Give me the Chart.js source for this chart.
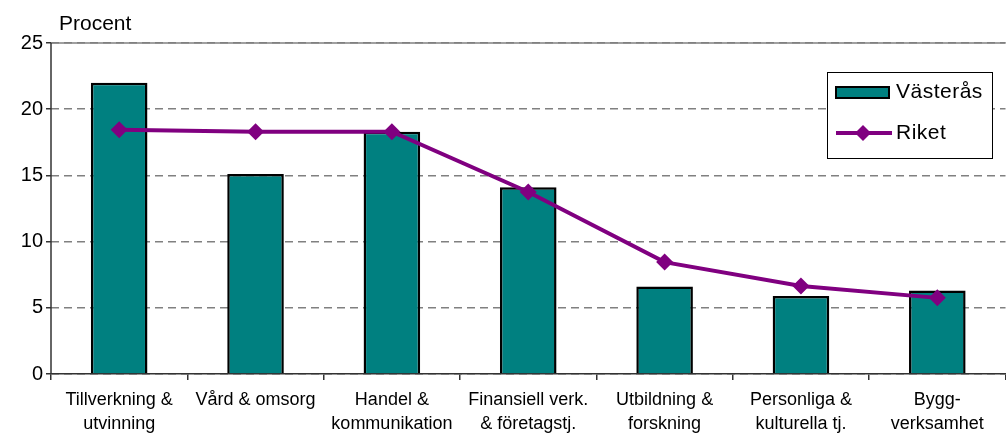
<!DOCTYPE html>
<html>
<head>
<meta charset="utf-8">
<script src="https://cdn.jsdelivr.net/npm/chart.js@4"></script>
<style>
  body { margin: 0; overflow: hidden; background: #fff; }
  #wrap { width: 1014px; height: 433px; }
</style>
</head>
<body>
<div id="wrap"><canvas id="chart"></canvas></div>
<script>
const categories = [
  ['Tillverkning &', 'utvinning'],
  'Vård & omsorg',
  ['Handel &', 'kommunikation'],
  ['Finansiell verk.', '& företagstj.'],
  ['Utbildning &', 'forskning'],
  ['Personliga &', 'kulturella tj.'],
  ['Bygg-', 'verksamhet'],
];

const vasteras = [22.0, 15.1, 18.3, 14.1, 6.6, 5.9, 6.3];
const riket = [18.45, 18.3, 18.3, 13.75, 8.45, 6.65, 5.75];

const yTicks = [0, 5, 10, 15, 20, 25];

const teal = '#008080';
const purple = '#800080';
const axisColor = '#333';
const gridColor = '#808080';
const font = 'Arial, "Liberation Sans", sans-serif';

// Draws the "Procent" label, solid axis/top lines and the boxed legend
const extras = {
  id: 'extras',
  beforeDatasetsDraw(chart) {
    const ctx = chart.ctx;
    const area = chart.chartArea;
    ctx.save();
    // solid top line at 25
    ctx.strokeStyle = gridColor;
    ctx.lineWidth = 1.5;
    ctx.beginPath();
    ctx.moveTo(area.left, area.top);
    ctx.lineTo(area.right, area.top);
    ctx.stroke();
    // solid left axis
    ctx.strokeStyle = axisColor;
    ctx.beginPath();
    ctx.moveTo(area.left, area.top);
    ctx.lineTo(area.left, area.bottom);
    ctx.stroke();
    ctx.restore();
  },
  afterDraw(chart) {
    const ctx = chart.ctx;
    const area = chart.chartArea;
    ctx.save();
    ctx.fillStyle = '#000';
    ctx.font = '21px ' + font;
    ctx.textBaseline = 'alphabetic';
    ctx.textAlign = 'left';
    ctx.fillText('Procent', area.left + 8, 30);

    // legend box
    ctx.fillStyle = '#fff';
    ctx.fillRect(827, 72, 165, 86);
    ctx.strokeStyle = '#000';
    ctx.lineWidth = 1;
    ctx.strokeRect(827.5, 72.5, 165, 86);

    ctx.fillStyle = teal;
    ctx.fillRect(836, 87, 53, 11);
    ctx.lineWidth = 2;
    ctx.strokeRect(836, 87, 53, 11);

    ctx.strokeStyle = purple;
    ctx.lineWidth = 4;
    ctx.beginPath();
    ctx.moveTo(836, 133);
    ctx.lineTo(892, 133);
    ctx.stroke();
    ctx.fillStyle = purple;
    ctx.beginPath();
    ctx.moveTo(863, 125);
    ctx.lineTo(871, 133);
    ctx.lineTo(863, 141);
    ctx.lineTo(855, 133);
    ctx.closePath();
    ctx.fill();

    ctx.fillStyle = '#000';
    ctx.font = '21px ' + font;
    ctx.letterSpacing = '0.5px';
    ctx.textBaseline = 'middle';
    ctx.fillText('Västerås', 896, 92);
    ctx.fillText('Riket', 896, 133);
    ctx.restore();
  }
};

new Chart(document.getElementById('chart'), {
  type: 'bar',
  data: {
    labels: categories,
    datasets: [
      {
        type: 'line',
        label: 'Riket',
        data: riket,
        borderColor: purple,
        backgroundColor: purple,
        borderWidth: 4,
        pointStyle: 'rectRot',
        pointRadius: 8.5,
        pointHoverRadius: 8.5,
        pointBackgroundColor: purple,
        pointBorderWidth: 0,
        tension: 0,
        order: 0,
      },
      {
        label: 'Västerås',
        data: vasteras,
        backgroundColor: teal,
        borderColor: '#000',
        borderWidth: 2.5,
        barPercentage: 0.415,
        categoryPercentage: 1,
        order: 1,
      },
    ],
  },
  options: {
    responsive: true,
    maintainAspectRatio: false,
    animation: false,
    layout: { padding: { top: 43, left: 0, right: 0, bottom: 0 } },
    plugins: {
      legend: { display: false },
      tooltip: { enabled: false },
    },
    scales: {
      x: {
        offset: true,
        grid: {
          drawOnChartArea: false,
          offset: true,
          tickLength: 6,
          lineWidth: 1.5,
          color: axisColor,
        },
        border: { color: axisColor, width: 1.5 },
        ticks: {
          color: '#000',
          font: { family: font, size: 18, lineHeight: '24px' },
          maxRotation: 0,
          autoSkip: false,
          padding: 8,
        },
        afterFit(scale) { scale.height = 59; },
      },
      y: {
        min: 0,
        max: 25,
        afterBuildTicks(scale) { scale.ticks = yTicks.map(v => ({ value: v })); },
        grid: {
          color: gridColor,
          lineWidth: 1.5,
          tickLength: 5,
          tickColor: axisColor,
          tickBorderDash: [],
        },
        border: { display: false, dash: [8, 5] },
        ticks: {
          color: '#000',
          font: { family: font, size: 20 },
          padding: 3,
        },
        afterFit(scale) { scale.width = 51; },
      },
    },
  },
  plugins: [extras],
});
</script>
</body>
</html>
